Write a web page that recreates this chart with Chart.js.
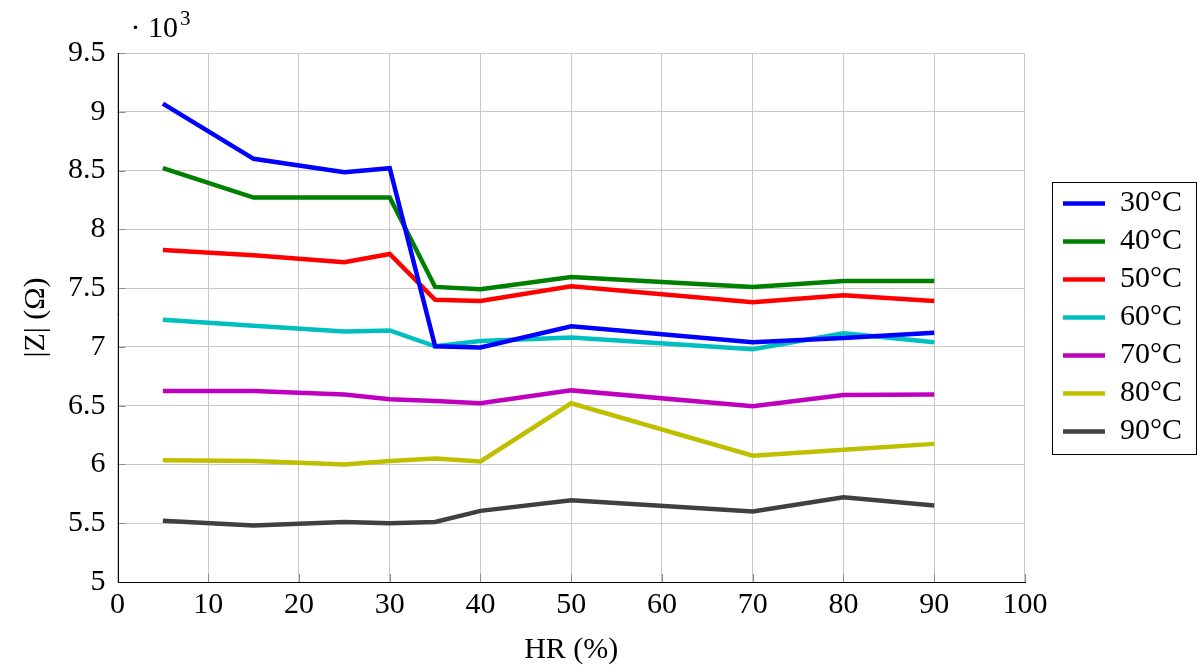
<!DOCTYPE html>
<html>
<head>
<meta charset="utf-8">
<script src="https://cdn.jsdelivr.net/npm/chart.js@4.4.1/dist/chart.umd.min.js"></script>
<style>
  html, body { margin: 0; padding: 0; background: #fff; }
  #wrap { width: 1198px; height: 668px; }
</style>
</head>
<body>
<div id="wrap"><canvas id="zChart" width="1198" height="668"></canvas></div>
<script>
// humedad relativa (%)
const hr = [5, 15, 25, 30, 35, 40, 50, 70, 80, 90];

// |Z| en ohmios para cada temperatura
const z30 = [9070, 8600, 8485, 8520, 7005, 6995, 7175, 7040, 7075, 7120];
const z40 = [8520, 8270, 8270, 8270, 7510, 7490, 7595, 7510, 7560, 7560];
const z50 = [7825, 7780, 7720, 7790, 7400, 7390, 7515, 7380, 7440, 7390];
const z60 = [7230, 7180, 7130, 7140, 7005, 7050, 7080, 6980, 7115, 7040];
const z70 = [6625, 6625, 6595, 6555, 6540, 6520, 6630, 6495, 6590, 6595];
const z80 = [6035, 6030, 6000, 6030, 6050, 6025, 6520, 6075, 6125, 6175];
const z90 = [5520, 5480, 5510, 5500, 5510, 5605, 5695, 5600, 5720, 5650];

const labels = ['30°C', '40°C', '50°C', '60°C', '70°C', '80°C', '90°C'];
const colors = ['#0000ff', '#008000', '#ff0000', '#00bfbf', '#bf00bf', '#bfbf00', '#404040'];
const series = [z30, z40, z50, z60, z70, z80, z90];

const serif = '"Liberation Serif", "DejaVu Serif", serif';
const fs = 30;

// la leyenda va separada del área y centrada en su altura
const extras = {
	id: 'extras',
	afterLayout(chart) {
		const lg = chart.legend, a = chart.chartArea;
		const w = lg.width;
		lg.left = a.right + 30;
		lg.right = lg.left + w;
		lg.top = a.top;
		lg.bottom = a.bottom;
		lg.height = a.bottom - a.top;
	},
	afterDraw(chart) {
		const ctx = chart.ctx;
		const area = chart.chartArea;
		const xs = chart.scales.x, ys = chart.scales.y;
		ctx.save();
		// marcas cortas hacia dentro
		ctx.strokeStyle = '#8c8c8c';
		ctx.lineWidth = 1;
		ctx.beginPath();
		xs.ticks.forEach(t => {
			const px = Math.round(xs.getPixelForValue(t.value)) + 0.5;
			ctx.moveTo(px, area.bottom);
			ctx.lineTo(px, area.bottom - 8);
		});
		ys.ticks.forEach(t => {
			const py = Math.round(ys.getPixelForValue(t.value)) + 0.5;
			ctx.moveTo(area.left, py);
			ctx.lineTo(area.left + 8, py);
		});
		ctx.stroke();

		// ejes izquierdo e inferior
		const x0 = Math.round(area.left) + 0.5, y0 = Math.round(area.bottom) + 0.5;
		ctx.strokeStyle = '#000';
		ctx.beginPath();
		ctx.moveTo(x0, Math.round(area.top));
		ctx.lineTo(x0, y0);
		ctx.lineTo(Math.round(area.right) + 1, y0);
		ctx.stroke();

		// marco de la leyenda
		const cy = (area.top + area.bottom) / 2;
		ctx.strokeRect(Math.round(area.right + 27) + 0.5, Math.round(cy - 136) + 0.5, 144, 272);

		// factor de escala del eje y
		ctx.fillStyle = '#000';
		ctx.textBaseline = 'alphabetic';
		ctx.font = fs + 'px ' + serif;
		ctx.fillText('· 10', area.left + 13, area.top - 16);
		const w = ctx.measureText('· 10').width;
		ctx.font = '21px ' + serif;
		ctx.fillText('3', area.left + 13 + w + 2, area.top - 28);
		ctx.restore();
	}
};

new Chart(document.getElementById('zChart').getContext('2d'), {
	type: 'line',
	data: {
		datasets: series.map((vals, i) => ({
			label: labels[i],
			data: hr.map((h, j) => ({ x: h, y: vals[j] })),
			borderColor: colors[i],
			backgroundColor: colors[i],
			borderWidth: 4.5,
			pointRadius: 0,
			tension: 0,
			fill: false
		}))
	},
	options: {
		responsive: false,
		animation: false,
		layout: { padding: { top: 53, right: 36, left: 14, bottom: 0 } },
		plugins: {
			tooltip: { enabled: false },
			legend: {
				position: 'right',
				align: 'center',
				labels: {
					usePointStyle: true,
					pointStyle: 'line',
					pointStyleWidth: 42,
					color: '#000',
					padding: 8,
					font: { family: serif, size: fs }
				}
			}
		},
		scales: {
			x: {
				type: 'linear',
				min: 0,
				max: 100,
				ticks: { stepSize: 10, color: '#000', font: { family: serif, size: fs }, padding: 5, maxRotation: 0 },
				grid: { color: '#c8c8c8', drawTicks: false },
				border: { display: false },
				title: { display: true, text: 'HR (%)', color: '#000', font: { family: serif, size: fs }, padding: { top: 4, bottom: 0 } }
			},
			y: {
				min: 5000,
				max: 9500,
				ticks: {
					stepSize: 500,
					color: '#000',
					font: { family: serif, size: fs },
					padding: 12,
					callback: v => String(v / 1000)
				},
				grid: { color: '#c8c8c8', drawTicks: false },
				border: { display: false },
				title: { display: true, text: '|Z| (Ω)', color: '#000', font: { family: serif, size: fs }, padding: { top: 4, bottom: 2 } }
			}
		}
	},
	plugins: [extras]
});
</script>
</body>
</html>
